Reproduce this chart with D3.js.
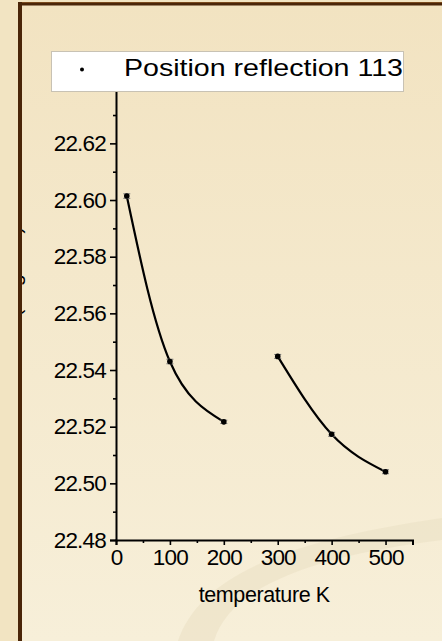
<!DOCTYPE html>
<html>
<head>
<meta charset="utf-8">
<script src="https://cdn.jsdelivr.net/npm/d3@7/dist/d3.min.js"></script>
<style>
  html, body { margin: 0; padding: 0; background: #f2e4c2; }
  svg { display: block; }
  text { font-family: "Liberation Sans", Arial, sans-serif; fill: #000; }
</style>
</head>
<body>
<svg id="chart" width="442" height="641"></svg>
<script>
// Measured peak position of the 113 reflection vs. temperature
const temperatures = [20, 100, 200, 300, 400, 500];
const positions    = [22.6014, 22.5430, 22.5217, 22.5448, 22.5173, 22.5041];
const errors       = [0.0008, 0.0008, 0.0006, 0.0007, 0.0007, 0.0007];
// Two temperature regimes, each with its own fitted trend
const segments     = [[0, 1, 2], [3, 4, 5]];
const xTicks       = [0, 100, 200, 300, 400, 500];
const xMinorTicks  = [50, 150, 250, 350, 450, 550];
const yTicks       = [22.48, 22.50, 22.52, 22.54, 22.56, 22.58, 22.60, 22.62];
const yMinorTicks  = [22.49, 22.51, 22.53, 22.55, 22.57, 22.59, 22.61, 22.63];
const legendLabel  = "Position reflection 113";
const xTitle       = "temperature K";
const yTitle       = "2\u03B8 (degrees)";

const svg = d3.select("#chart");
const W = 442, H = 641;

// ---- page background and frame ----
const defs = svg.append("defs");
const bg = defs.append("linearGradient").attr("id", "bg").attr("x1", 0).attr("y1", 0).attr("x2", 0).attr("y2", 1);
bg.append("stop").attr("offset", "0%").attr("stop-color", "#f2e3c1");
bg.append("stop").attr("offset", "100%").attr("stop-color", "#f7efd9");
defs.append("clipPath").attr("id", "inner")
  .append("rect").attr("x", 22).attr("y", 5).attr("width", W - 22).attr("height", H - 5);

svg.append("rect").attr("width", W).attr("height", H).attr("fill", "#f2e4c2");
svg.append("rect").attr("x", 20).attr("y", 4).attr("width", W - 20).attr("height", H - 4).attr("fill", "url(#bg)");

// soft decorative swoosh in the lower right
svg.append("path")
  .attr("clip-path", "url(#inner)")
  .attr("d", "M178,641 C200,575 290,540 442,518 L442,540 C320,555 230,585 214,641 Z")
  .attr("fill", "#ece2c8").attr("opacity", 0.7);

// frame
svg.append("rect").attr("x", 18).attr("y", 2).attr("width", W - 18).attr("height", 1).attr("fill", "#7a4a1c");
svg.append("rect").attr("x", 18).attr("y", 3).attr("width", W - 18).attr("height", 2.5).attr("fill", "#4a2508");
svg.append("rect").attr("x", 18).attr("y", 2).attr("width", 4).attr("height", H - 2).attr("fill", "#4a2508");

// y-axis title, mostly hidden behind the frame
svg.append("g").attr("clip-path", "url(#inner)")
  .append("text")
  .attr("transform", "translate(20.5,226.5) rotate(-90)")
  .attr("text-anchor", "end")
  .attr("font-size", 21)
  .text(yTitle);

// ---- scales ----
const x = d3.scaleLinear().domain([0, 550]).range([116, 412.5]);
const y = d3.scaleLinear().domain([22.48, 22.64]).range([540, 86.7]);

const fmtY = d3.format(".2f");

// ---- axes ----
const yAxis = svg.append("g").attr("transform", `translate(${x(0)},0)`)
  .call(d3.axisLeft(y).tickValues(yTicks).tickFormat(fmtY).tickSize(6).tickPadding(4));
const yMinor = svg.append("g").attr("transform", `translate(${x(0)},0)`)
  .call(d3.axisLeft(y).tickValues(yMinorTicks).tickFormat("").tickSize(3));

const xAxis = svg.append("g").attr("transform", `translate(0,${y(22.48)})`)
  .call(d3.axisBottom(x).tickValues(xTicks).tickFormat(d3.format("d")).tickSize(5).tickPadding(4));
const xMinor = svg.append("g").attr("transform", `translate(0,${y(22.48)})`)
  .call(d3.axisBottom(x).tickValues(xMinorTicks).tickFormat("").tickSize(3));

[yAxis, yMinor, xAxis, xMinor].forEach(g => {
  g.select(".domain").attr("stroke", "#000").attr("stroke-width", 2);
  g.selectAll(".tick line").attr("stroke", "#000").attr("stroke-width", 1.6);
});
[yMinor, xMinor].forEach(g => g.select(".domain").remove());

yAxis.selectAll(".tick text")
  .attr("font-size", 22.5).attr("letter-spacing", -0.8)
  .attr("font-family", "Liberation Sans, Arial, sans-serif").attr("fill", "#000");
xAxis.selectAll(".tick text")
  .attr("font-size", 22.5).attr("letter-spacing", -0.8)
  .attr("font-family", "Liberation Sans, Arial, sans-serif").attr("fill", "#000");

svg.append("text")
  .attr("x", (x(0) + x(550)) / 2).attr("y", 602)
  .attr("text-anchor", "middle").attr("font-size", 21.5).attr("letter-spacing", -0.4)
  .text(xTitle);

// ---- fitted curves ----
const line = d3.line()
  .x(i => x(temperatures[i]))
  .y(i => y(positions[i]))
  .curve(d3.curveNatural);

svg.append("g").selectAll("path").data(segments).join("path")
  .attr("d", line)
  .attr("fill", "none").attr("stroke", "#000").attr("stroke-width", 2.2);

// ---- error bars and points ----
const pts = svg.append("g").selectAll("g").data(temperatures.map((t, i) => i)).join("g");
pts.append("line")
  .attr("x1", i => x(temperatures[i])).attr("x2", i => x(temperatures[i]))
  .attr("y1", i => y(positions[i] - errors[i])).attr("y2", i => y(positions[i] + errors[i]))
  .attr("stroke", "#666").attr("stroke-width", 1);
[1, -1].forEach(s => {
  pts.append("line")
    .attr("x1", i => x(temperatures[i]) - 3.5).attr("x2", i => x(temperatures[i]) + 3.5)
    .attr("y1", i => y(positions[i] + s * errors[i])).attr("y2", i => y(positions[i] + s * errors[i]))
    .attr("stroke", "#777").attr("stroke-width", 1);
});
pts.append("circle")
  .attr("cx", i => x(temperatures[i])).attr("cy", i => y(positions[i]))
  .attr("r", 2.8).attr("fill", "#000");

// ---- legend ----
const legend = svg.append("g");
legend.append("rect")
  .attr("x", 51.5).attr("y", 51.5).attr("width", 352).attr("height", 40)
  .attr("fill", "#fff").attr("stroke", "#c8c2b4").attr("stroke-width", 1);
legend.append("circle").attr("cx", 82).attr("cy", 69.5).attr("r", 2).attr("fill", "#000");
legend.append("text")
  .attr("x", 124).attr("y", 75.5)
  .attr("font-size", 24)
  .attr("textLength", 279).attr("lengthAdjust", "spacingAndGlyphs")
  .text(legendLabel);
</script>
</body>
</html>
